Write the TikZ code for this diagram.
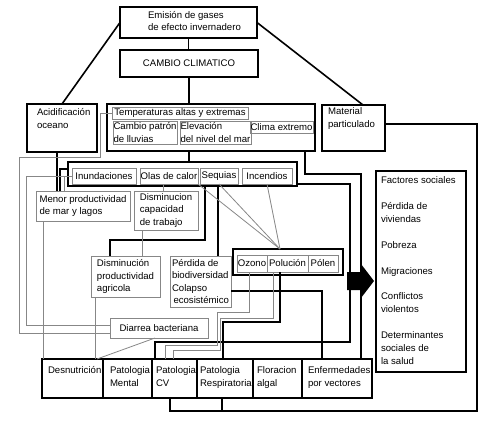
\documentclass[tikz,border=0pt]{standalone}
\usepackage{fontspec}
\setmainfont{Liberation Sans}
\usetikzlibrary{calc}
\definecolor{gline}{RGB}{135,135,135}
\begin{document}
\begin{tikzpicture}[x=1pt,y=-1pt,
  every node/.style={font=\fontsize{9.6}{12.6}\selectfont, inner sep=0pt, outer sep=0pt},
  bx/.style={draw=black, line width=1.5pt, anchor=north west},
  gb/.style={draw=gline, line width=0.8pt, anchor=north west, align=left},
  thk/.style={line width=1.6pt},
  gl/.style={draw=gline, line width=0.8pt},
  tl/.style={anchor=north west, align=left, inner sep=0pt},
]
\useasboundingbox (0,0) rectangle (500,423);

% top
\node[bx, minimum width=137pt, minimum height=31pt,
  label={[tl,xshift=28pt,yshift=-4pt]north west:{Emisión de gases\\de efecto invernadero}}] (emi) at (120,7) {};
\node[bx, minimum width=138pt, minimum height=27pt] (cc) at (120,50) {CAMBIO CLIMATICO};

% second row
\node[bx, minimum width=70pt, minimum height=48pt,
  label={[tl,xshift=10pt,yshift=-4.5pt]north west:{Acidificación\\oceano}}] (acid) at (27,104) {};
\node[bx, minimum width=208pt, minimum height=47pt] (bigtemp) at (107,104) {};
\node[gb, minimum width=136pt, minimum height=12pt] (talt) at (112,107) {Temperaturas altas y extremas};
\node[gb, minimum width=64pt, minimum height=23pt] (cpl) at (113,121) {Cambio patrón\\de lluvias};
\node[gb, minimum width=71pt, minimum height=23pt] (elev) at (180,121) {Elevación\\del nivel del mar};
\node[gb, minimum width=63pt, minimum height=12pt] (clima) at (250,121) {Clima extremo};
\node[bx, minimum width=63pt, minimum height=46pt,
  label={[tl,xshift=6pt,yshift=-2.5pt]north west:{Material\\particulado}}] (mat) at (322,105) {};

% third row
\node[bx, minimum width=229pt, minimum height=24pt] (inund) at (68,162) {};
\node[gb, minimum width=64pt, minimum height=16pt] (inun) at (72,168) {Inundaciones};
\node[gb, minimum width=58pt, minimum height=16pt] (olas) at (140,168) {Olas de calor};
\node[gb, minimum width=38pt, minimum height=16pt] (seq) at (200,168) {Sequias};
\node[gb, minimum width=50pt, minimum height=16pt] (inc) at (242,168) {Incendios};

% middle gray boxes
\node[gb, minimum width=94pt, minimum height=30pt] (menor) at (36,191) {Menor productividad\\de mar y lagos};
\node[gb, minimum width=64pt, minimum height=39pt] (dcap) at (134,191) {Disminucion\\capacidad\\de trabajo};
\node[gb, minimum width=69pt, minimum height=41pt] (dprod) at (91,256) {Disminución\\productividad\\agricola};
\node[gb, minimum width=61pt, minimum height=51pt] (perd) at (170,256) {Pérdida de\\biodiversidad\\Colapso\\\hspace*{1.5pt}ecosistémico};
\node[bx, minimum width=110pt, minimum height=26pt] (ozbig) at (233,249) {};
\node[gb, minimum width=30pt, minimum height=17pt] (ozo) at (237,255) {Ozono};
\node[gb, minimum width=41pt, minimum height=17pt] (pol) at (267,255) {Polución};
\node[gb, minimum width=30pt, minimum height=17pt] (pln) at (308,255) {Pólen};
\node[gb, minimum width=98pt, minimum height=20pt] (diar) at (110,318) {Diarrea bacteriana};

% bottom row
\node[bx, minimum width=61pt, minimum height=39pt,
  label={[tl,xshift=6pt,yshift=-7.5pt]north west:{Desnutrición}}] (desn) at (42,359) {};
\node[bx, minimum width=49pt, minimum height=39pt,
  label={[tl,xshift=7pt,yshift=-7.5pt]north west:{Patologia\\Mental}}] (pmen) at (103,359) {};
\node[bx, minimum width=45pt, minimum height=39pt,
  label={[tl,xshift=4pt,yshift=-7.5pt]north west:{Patologia\\CV}}] (pcv) at (152,359) {};
\node[bx, minimum width=56pt, minimum height=39pt,
  label={[tl,xshift=3pt,yshift=-7.5pt]north west:{Patologia\\Respiratoria}}] (presp) at (197,359) {};
\node[bx, minimum width=49pt, minimum height=39pt,
  label={[tl,xshift=4pt,yshift=-7.5pt]north west:{Floracion\\algal}}] (flor) at (253,359) {};
\node[bx, minimum width=70pt, minimum height=39pt,
  label={[tl,xshift=6pt,yshift=-7.5pt]north west:{Enfermedades\\por vectores}}] (enf) at (302,359) {};

% factores sociales
\node[bx, minimum width=90pt, minimum height=201pt,
  label={[tl,xshift=5pt,yshift=-5.5pt,font=\fontsize{9.6}{12.9}\selectfont]north west:{Factores sociales\\[13pt]Pérdida de\\viviendas\\[13pt]Pobreza\\[13pt]Migraciones\\[13pt]Conflictos\\violentos\\[13pt]Determinantes\\sociales de\\la salud}}] (fac) at (376,171) {};

% connectors (black)
\draw[thk] (emi.south) -- (emi.south |- cc.north);
\draw[thk] (cc.south) -- (cc.south |- bigtemp.north);
\draw[thk] (emi.west) -- (acid.north);
\draw[thk] (emi.east) -- (mat.north -| 363,0);
\draw[thk] (cc.south |- bigtemp.south) -- (cc.south |- inund.north);
\draw[thk] (acid.south -| 57,0) -- (menor.north -| 57,0);
\draw[thk] (inund.west |- 0,169) -| (menor.north -| 60,0);
\draw[thk] (inund.south -| 205,0) |- (110,240) -- (dprod.north -| 110,0);
\draw[thk] (inund.south -| 218,0) -- (perd.north -| 218,0);
\draw[thk] (inund.east |- 0,184) -| (350,342) -| (pcv.north -| 155,0);
\draw[thk] (bigtemp.south -| 305,0) |- (361,174) -- (enf.north -| 361,0);
\draw[thk] (mat.east |- 0,124) -| (477,411) -| (pcv.south -| 170,0);
\coordinate (bj) at (222,411);
\draw[thk] (presp.south -| 222,0) -- (bj);
\draw[thk] (pol.south -| 280,0) |- (223,322) -- (presp.north -| 223,0);
\draw[thk] (perd.east |- 0,291) -| (enf.north -| 322,0);

% connectors (gray)
\draw[gl] (inun.west) -| (menor.north -| 64,0);
\draw[gl] (inun.west) -| (26,325) -- (diar.west |- 0,325);
\draw[gl] (talt.west) -| (100,157) -| (19,333) -- (diar.west |- 0,333);
\draw[gl] (olas.south -| 163,0) -- (dcap.north -| 163,0);
\draw[gl] (dcap.south -| 142,0) -- (dprod.north -| 142,0);
\coordinate (cv) at (ozbig.north -| 280,0);
\draw[gl] (olas.south east) -- (cv);
\draw[gl] (seq.south) -- (cv);
\draw[gl] (inc.south) -- (cv);
\draw[gl] (ozo.south -| 249,0) |- (217,312) |- (165,345) -- (pcv.north -| 165,0);
\draw[gl] (pol.south -| 273,0) |- (220,318) |- (173,350) -- (pcv.north -| 173,0);
\draw[gl] (diar.south -| 155,0) -- (desn.north -| 97,0);
\draw[gl] (menor.south -| 43,0) -- (desn.north -| 43,0);
\draw[gl] (dprod.south -| 95,0) -- (desn.north -| 95,0);

% big arrow
\fill[black] (347,272) -- (361,272) -- (361,264) -- (374,281) -- (361,298) -- (361,290) -- (347,290) -- cycle;
\end{tikzpicture}
\end{document}
